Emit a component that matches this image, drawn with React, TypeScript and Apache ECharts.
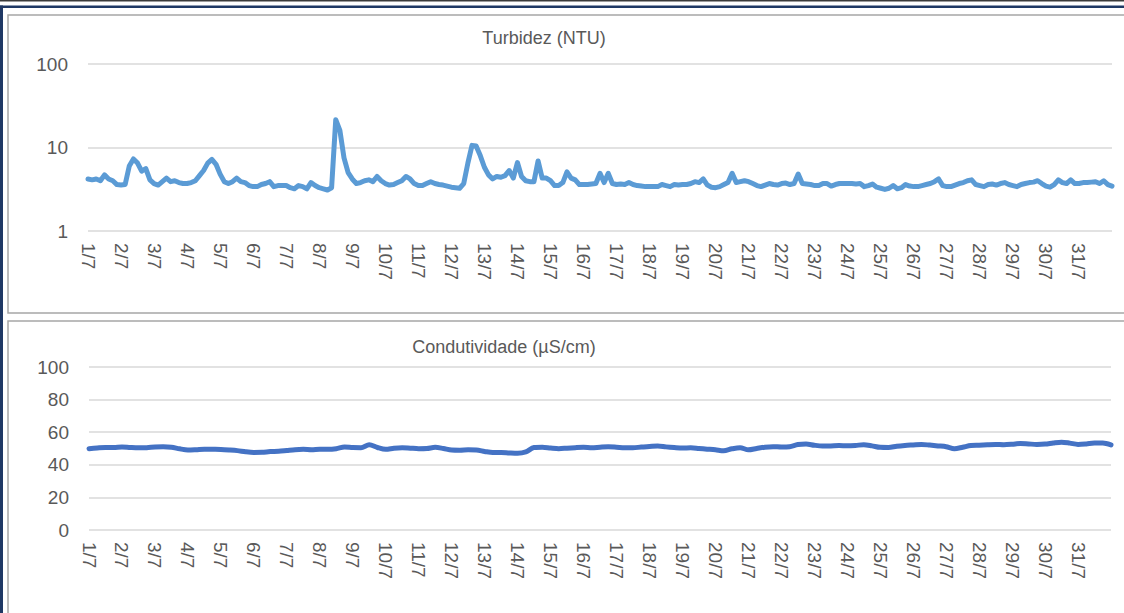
import React, { useEffect, useRef } from "react";
import * as echarts from "echarts";

// Tick labels of the shared day axis
const DAY_LABELS = [
  "1/7", "2/7", "3/7", "4/7", "5/7", "6/7", "7/7", "8/7", "9/7", "10/7",
  "11/7", "12/7", "13/7", "14/7", "15/7", "16/7", "17/7", "18/7", "19/7", "20/7",
  "21/7", "22/7", "23/7", "24/7", "25/7", "26/7", "27/7", "28/7", "29/7", "30/7",
  "31/7",
];

const TITLE_TURB = "Turbidez (NTU)";
const TITLE_COND = "Condutividade (µS/cm)";

// Turbidity readings, 8 per day (every 3 h)
const TURB_PER_DAY = 8;
const turbidez = [
  4.2, 4.1, 4.2, 4.0, 4.7, 4.2, 4.0, 3.6,
  3.55, 3.6, 6.0, 7.3, 6.5, 5.2, 5.6, 4.1,
  3.7, 3.55, 3.9, 4.3, 3.9, 4.0, 3.8, 3.7,
  3.7, 3.8, 4.0, 4.6, 5.3, 6.5, 7.2, 6.3,
  4.8, 3.9, 3.7, 3.9, 4.3, 3.9, 3.8, 3.5,
  3.4, 3.4, 3.6, 3.7, 3.9, 3.4, 3.5, 3.5,
  3.5, 3.3, 3.2, 3.5, 3.4, 3.2, 3.8, 3.5,
  3.3, 3.2, 3.1, 3.3, 21.5, 16, 7.5, 5.0,
  4.2, 3.7, 3.8, 4.0, 4.1, 3.9, 4.5, 4.0,
  3.7, 3.55, 3.6, 3.8, 4.0, 4.5, 4.2, 3.7,
  3.5, 3.5, 3.7, 3.9, 3.7, 3.6, 3.55, 3.45,
  3.35, 3.3, 3.25, 3.7, 6.5, 10.6, 10.4, 8.0,
  5.8, 4.7, 4.2, 4.5, 4.4, 4.6, 5.3, 4.3,
  6.6, 4.5, 4.0, 3.9, 3.9, 6.9, 4.3, 4.3,
  4.0, 3.5, 3.5, 3.8, 5.1, 4.3, 4.1, 3.6,
  3.6, 3.6, 3.65, 3.7, 4.9, 3.8, 4.9, 3.7,
  3.6, 3.65, 3.6, 3.8, 3.6, 3.5, 3.45, 3.4,
  3.4, 3.4, 3.4, 3.6, 3.5, 3.4, 3.6, 3.55,
  3.6, 3.6, 3.7, 3.9, 3.8, 4.2, 3.55, 3.35,
  3.3, 3.4, 3.6, 3.8, 4.9, 3.8, 3.9, 4.0,
  3.9, 3.7, 3.5, 3.4, 3.55, 3.7, 3.6, 3.55,
  3.7, 3.75, 3.6, 3.7, 4.8, 3.7, 3.65, 3.6,
  3.5, 3.5, 3.7, 3.7, 3.45, 3.6, 3.7, 3.7,
  3.7, 3.7, 3.65, 3.7, 3.4, 3.5, 3.65, 3.35,
  3.25, 3.15, 3.25, 3.5, 3.2, 3.3, 3.6, 3.45,
  3.4, 3.4, 3.5, 3.6, 3.7, 3.9, 4.2, 3.5,
  3.4, 3.4, 3.55, 3.7, 3.8, 4.0, 4.1, 3.6,
  3.5, 3.4, 3.6, 3.65, 3.55, 3.7, 3.8, 3.6,
  3.5, 3.4, 3.6, 3.7, 3.8, 3.85, 4.0, 3.7,
  3.45, 3.35, 3.6, 4.1, 3.8, 3.7, 4.1, 3.7,
  3.7, 3.8, 3.8, 3.85, 3.9, 3.7, 4.0, 3.6,
  3.45,
];

// Conductivity readings, 4 per day (every 6 h)
const COND_PER_DAY = 4;
const condutividade = [
  49.9, 50.3, 50.6, 50.6,
  50.9, 50.6, 50.4, 50.5,
  50.9, 51.1, 50.8, 49.8,
  49.1, 49.3, 49.6, 49.5,
  49.4, 49.1, 48.7, 48.0,
  47.6, 47.7, 48.1, 48.3,
  48.8, 49.3, 49.5, 49.3,
  49.6, 49.5, 49.9, 50.9,
  50.6, 50.5, 52.3, 50.6,
  49.5, 50.2, 50.5, 50.2,
  49.9, 50.0, 50.7, 50.0,
  49.1, 49.0, 49.2, 49.1,
  48.2, 47.5, 47.6, 47.3,
  47.1, 47.9, 50.6, 50.8,
  50.3, 49.9, 50.2, 50.5,
  50.7, 50.4, 50.8, 51.1,
  50.8, 50.4, 50.4, 50.9,
  51.2, 51.5, 51.0, 50.6,
  50.3, 50.4, 50.0, 49.6,
  49.2, 48.6, 49.8, 50.5,
  49.2, 50.0, 50.8, 51.1,
  50.9, 51.1, 52.4, 52.8,
  52.0, 51.5, 51.6, 51.8,
  51.7, 51.9, 52.3, 51.6,
  50.7, 50.6, 51.4, 51.9,
  52.2, 52.5, 52.1, 51.6,
  51.1, 49.9, 50.8, 51.8,
  52.0, 52.3, 52.5, 52.3,
  52.6, 53.1, 52.8, 52.5,
  52.7, 53.4, 53.9, 53.3,
  52.5, 52.8, 53.3, 53.3,
  52.2,
];

const COND_TICKS = { min: 0, max: 100, interval: 20 };
const TURB_TICKS = { min: 1, max: 100 };

const FONT = '"Liberation Sans", Arial, sans-serif';
const TEXT_COLOR = "#595959";
const GRID_COLOR = "#d9d9d9";

function toPairs(values: number[], perDay: number) {
  return values.map((v, i) => [i / perDay, v]);
}

export default function App() {
  const ref = useRef<HTMLDivElement>(null);

  useEffect(() => {
    if (!ref.current) return;
    const chart = echarts.init(ref.current, undefined, { renderer: "svg" });

    const xAxisFor = (gridIndex: number) => ({
      type: "value",
      gridIndex,
      min: 0,
      max: DAY_LABELS.length,
      interval: 1,
      axisLine: { show: false },
      axisTick: { show: false },
      splitLine: { show: false },
      axisLabel: {
        rotate: -90,
        margin: 12,
        color: TEXT_COLOR,
        fontSize: 19,
        fontFamily: FONT,
        showMinLabel: true,
        showMaxLabel: false,
        formatter: (v: number) => DAY_LABELS[Math.round(v)] ?? "",
      },
    });

    const yCommon = {
      axisLine: { show: false },
      axisTick: { show: false },
      splitLine: { show: true, lineStyle: { color: GRID_COLOR, width: 1.5 } },
      axisLabel: { color: TEXT_COLOR, fontSize: 19, fontFamily: FONT, margin: 20 },
    };

    const option: any = {
      animation: false,
      textStyle: { fontFamily: FONT },
      grid: [
        { left: 88, right: 12, top: 64, height: 167, outerBoundsMode: "none" },
        { left: 89, right: 13, top: 367, height: 163, outerBoundsMode: "none" },
      ],
      xAxis: [xAxisFor(0), xAxisFor(1)],
      yAxis: [
        { type: "log", logBase: 10, gridIndex: 0, min: TURB_TICKS.min, max: TURB_TICKS.max, ...yCommon },
        { type: "value", gridIndex: 1, min: COND_TICKS.min, max: COND_TICKS.max, interval: COND_TICKS.interval, ...yCommon },
      ],
      series: [
        {
          type: "line",
          name: TITLE_TURB,
          xAxisIndex: 0,
          yAxisIndex: 0,
          data: toPairs(turbidez, TURB_PER_DAY),
          symbol: "none",
          showSymbol: false,
          lineStyle: { color: "#5b9bd5", width: 5, join: "round", cap: "round" },
        },
        {
          type: "line",
          name: TITLE_COND,
          xAxisIndex: 1,
          yAxisIndex: 1,
          data: toPairs(condutividade, COND_PER_DAY),
          symbol: "none",
          showSymbol: false,
          smooth: 0.3,
          lineStyle: { color: "#4472c4", width: 5, join: "round", cap: "round" },
        },
      ],
      graphic: [
        { type: "rect", shape: { x: 0, y: 0, width: 1124, height: 1.5 }, style: { fill: "#3a3a3a" }, silent: true },
        { type: "rect", shape: { x: 0, y: 5.5, width: 1124, height: 2.5 }, style: { fill: "#1f3864" }, silent: true },
        { type: "rect", shape: { x: 0, y: 5.5, width: 3, height: 620 }, style: { fill: "#1f3864" }, silent: true },
        {
          type: "rect",
          shape: { x: 8, y: 15, width: 1140, height: 298 },
          style: { fill: "transparent", stroke: "#a6a6a6", lineWidth: 1.5 },
          silent: true,
        },
        {
          type: "rect",
          shape: { x: 8, y: 321, width: 1140, height: 320 },
          style: { fill: "transparent", stroke: "#a6a6a6", lineWidth: 1.5 },
          silent: true,
        },
        {
          type: "text",
          x: 544,
          y: 38,
          style: { text: TITLE_TURB, align: "center", verticalAlign: "middle", font: `18px ${FONT}`, fill: TEXT_COLOR },
          silent: true,
        },
        {
          type: "text",
          x: 504,
          y: 347,
          style: { text: TITLE_COND, align: "center", verticalAlign: "middle", font: `18px ${FONT}`, fill: TEXT_COLOR },
          silent: true,
        },
      ],
    };

    chart.setOption(option);
    return () => chart.dispose();
  }, []);

  return (
    <div
      ref={ref}
      style={{ position: "absolute", left: 0, top: 0, width: 1124, height: 613, background: "#ffffff" }}
    />
  );
}
